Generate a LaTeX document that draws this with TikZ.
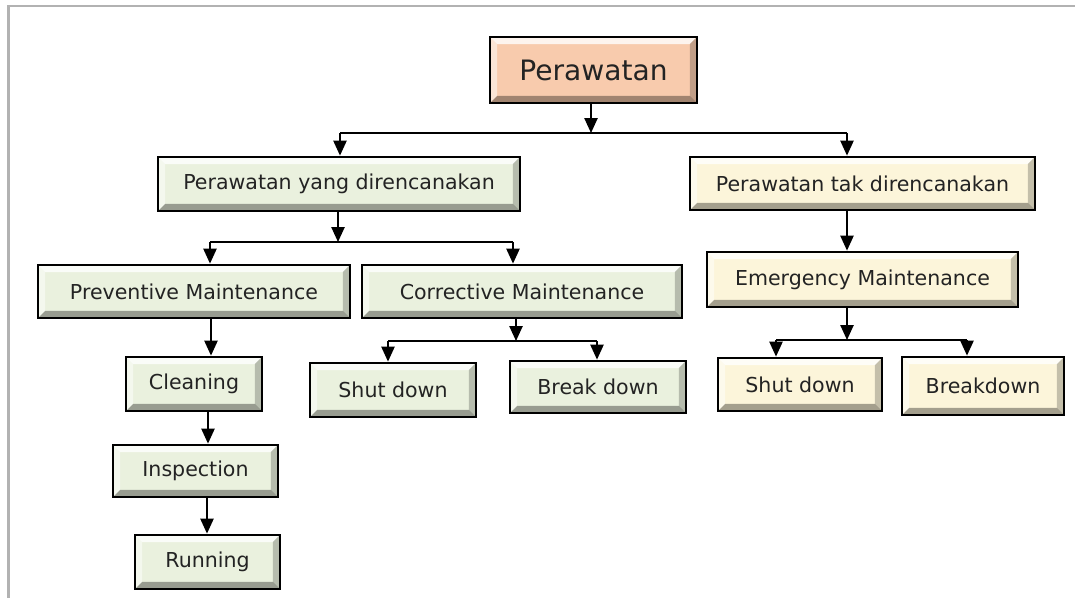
\documentclass[tikz,border=0pt]{standalone}
\usepackage{fontspec}
\setmainfont{DejaVu Sans}
\usepackage{tikz}
\usetikzlibrary{arrows.meta}

\definecolor{peach}{RGB}{248,203,173}
\definecolor{sage}{RGB}{234,241,222}
\definecolor{cream}{RGB}{252,245,218}
\definecolor{framegray}{RGB}{178,178,178}
\definecolor{inktext}{RGB}{35,35,35}
\newcommand{\bevw}{4pt}

\tikzset{
  bevelbox/.style={draw=black, line width=1.6pt, inner sep=0pt, text=inktext,
    font=\fontsize{11.7}{13}\selectfont,
    path picture={
      \fill[white,opacity=0.8] (path picture bounding box.north west) -- (path picture bounding box.north east)
        -- ([shift={(-\bevw,-\bevw)}]path picture bounding box.north east) -- ([shift={(\bevw,-\bevw)}]path picture bounding box.north west) -- cycle;
      \fill[white,opacity=0.5] (path picture bounding box.north west) -- (path picture bounding box.south west)
        -- ([shift={(\bevw,\bevw)}]path picture bounding box.south west) -- ([shift={(\bevw,-\bevw)}]path picture bounding box.north west) -- cycle;
      \fill[black,opacity=0.35] (path picture bounding box.south west) -- (path picture bounding box.south east)
        -- ([shift={(-\bevw,\bevw)}]path picture bounding box.south east) -- ([shift={(\bevw,\bevw)}]path picture bounding box.south west) -- cycle;
      \fill[black,opacity=0.22] (path picture bounding box.north east) -- (path picture bounding box.south east)
        -- ([shift={(-\bevw,\bevw)}]path picture bounding box.south east) -- ([shift={(-\bevw,-\bevw)}]path picture bounding box.north east) -- cycle;
    }},
  planbox/.style={bevelbox, fill=sage},
  unplanbox/.style={bevelbox, fill=cream},
  link/.style={line width=1pt, -{Triangle[length=8.5pt,width=7.5pt]}},
  bar/.style={line width=1pt}
}

\begin{document}
\begin{tikzpicture}[x=0.02cm,y=-0.02cm]
\useasboundingbox (0,0) rectangle (1075,598);
\draw[framegray,line width=1.3pt] (8.5,598) -- (8.5,6) -- (1075,6);

% boxes
\node[bevelbox, fill=peach, minimum width=4.14cm, minimum height=1.32cm,
  font=\fontsize{16}{18}\selectfont] (top) at (593.5,70) {Perawatan};
\node[planbox, minimum width=7.24cm, minimum height=1.08cm] (pyd) at (339,184) {Perawatan yang direncanakan};
\node[unplanbox, minimum width=6.9cm, minimum height=1.06cm] (ptd) at (862.5,183.5) {Perawatan tak direncanakan};
\node[planbox, minimum width=6.24cm, minimum height=1.06cm] (prev) at (194,291.5) {Preventive Maintenance};
\node[planbox, minimum width=6.4cm, minimum height=1.06cm] (corr) at (522,291.5) {Corrective Maintenance};
\node[unplanbox, minimum width=6.22cm, minimum height=1.1cm] (emer) at (862.5,279.5) {Emergency Maintenance};
\node[planbox, minimum width=2.72cm, minimum height=1.08cm] (clean) at (194,384) {Cleaning};
\node[planbox, minimum width=3.3cm, minimum height=1.04cm] (insp) at (195.5,471) {Inspection};
\node[planbox, minimum width=2.9cm, minimum height=1.08cm] (run) at (207.5,562) {Running};
\node[planbox, minimum width=3.32cm, minimum height=1.08cm] (sdA) at (393,390) {Shut down};
\node[planbox, minimum width=3.52cm, minimum height=1.04cm] (bdA) at (598,387) {Break down};
\node[unplanbox, minimum width=3.28cm, minimum height=1.06cm] (sdB) at (800,384.5) {Shut down};
\node[unplanbox, minimum width=3.24cm, minimum height=1.16cm] (bdB) at (983,386) {Breakdown};

% junctions
\coordinate (jA) at (591,133); \coordinate (jAl) at (340,133); \coordinate (jAr) at (847,133);
\coordinate (jB) at (338,242); \coordinate (jBl) at (210,242); \coordinate (jBr) at (513,242);
\coordinate (jC) at (516,341); \coordinate (jCl) at (388,341); \coordinate (jCr) at (597,341);
\coordinate (jD) at (847,340); \coordinate (jDl) at (776,340); \coordinate (jDr) at (967,340);

% branching connectors
\foreach \src/\j/\lft/\rgt in {top/jA/pyd/ptd, pyd/jB/prev/corr, corr/jC/sdA/bdA, emer/jD/sdB/bdB}{
  \draw[link] (\src.south -| \j) -- (\j);
  \draw[bar] (\j l) -- (\j r);
  \draw[link] (\j l) -- (\lft.north -| \j l);
  \draw[link] (\j r) -- (\rgt.north -| \j r);
}

% straight connectors
\foreach \a/\b/\x in {prev/clean/211, clean/insp/208, insp/run/207, ptd/emer/847}
  \draw[link] (\a.south -| \x,0) -- (\b.north -| \x,0);
\end{tikzpicture}
\end{document}
